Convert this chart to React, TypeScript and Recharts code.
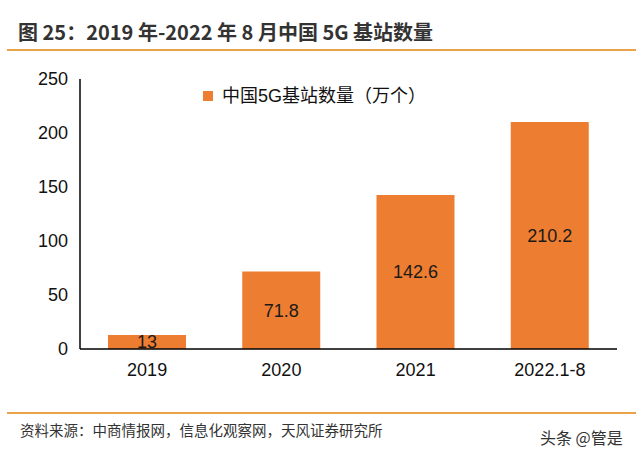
import { BarChart, Bar, XAxis, YAxis, LabelList } from 'recharts';

const years = ['2019', '2020', '2021', '2022.1-8'];
const stations = [13, 71.8, 142.6, 210.2];
const yTicks = [0, 50, 100, 150, 200, 250];
const seriesName = '中国5G基站数量（万个）';

const data = years.map((year, i) => ({ year, value: stations[i] }));

const FONT = '"Liberation Sans", Arial, "Noto Sans CJK SC", sans-serif';
const CJK = '"Noto Sans CJK SC", sans-serif';
const ORANGE = '#ED7D31';

export default function App() {
  return (
    <div style={{ position: 'absolute', left: 0, top: 0, width: 640, height: 459, background: '#fff', fontFamily: FONT, overflow: 'hidden' }}>
      <div style={{ position: 'absolute', left: 18, top: 19, fontSize: 20, fontWeight: 'bold', color: '#333', fontFamily: CJK, lineHeight: '26px', whiteSpace: 'nowrap' }}>
        图 25：2019 年-2022 年 8 月中国 5G 基站数量
      </div>
      <div style={{ position: 'absolute', left: 7, top: 49, width: 629, height: 2, background: '#E9A34A' }} />

      <div style={{ position: 'absolute', left: 0, top: 0 }}>
        <BarChart width={640} height={459} data={data} margin={{ top: 79, right: 23, bottom: 80, left: 30 }}>
          <XAxis
            dataKey="year"
            height={30}
            tickLine={false}
            axisLine={{ stroke: '#000', strokeWidth: 1.5 }}
            tick={{ fill: '#111', fontSize: 18, fontFamily: FONT }}
            tickMargin={8}
          />
          <YAxis
            width={50}
            domain={[0, 250]}
            ticks={yTicks}
            tickLine={false}
            axisLine={{ stroke: '#000', strokeWidth: 1.5 }}
            tick={{ fill: '#111', fontSize: 18, fontFamily: FONT }}
            tickMargin={6}
            interval={0}
          />
          <Bar dataKey="value" name={seriesName} fill={ORANGE} barSize={78} isAnimationActive={false}>
            <LabelList dataKey="value" position="center" fill="#1a1a1a" fontSize={18} fontFamily={FONT} />
          </Bar>
        </BarChart>
      </div>

      <div style={{ position: 'absolute', left: 203, top: 85, display: 'flex', alignItems: 'center', whiteSpace: 'nowrap' }}>
        <div style={{ width: 10, height: 10, background: ORANGE, marginRight: 9 }} />
        <span style={{ fontSize: 18, color: '#111', fontFamily: FONT, lineHeight: '22px' }}>{seriesName}</span>
      </div>

      <div style={{ position: 'absolute', left: 7, top: 412, width: 629, height: 2, background: '#E9A34A' }} />
      <div style={{ position: 'absolute', left: 20, top: 419, fontSize: 14.5, color: '#333', fontFamily: CJK, lineHeight: '22px', whiteSpace: 'nowrap' }}>
        资料来源：中商情报网，信息化观察网，天风证券研究所
      </div>
      <div style={{ position: 'absolute', left: 540, top: 426, fontSize: 16, color: '#333', fontFamily: CJK, lineHeight: '22px', whiteSpace: 'nowrap' }}>
        头条 @管是
      </div>
    </div>
  );
}
